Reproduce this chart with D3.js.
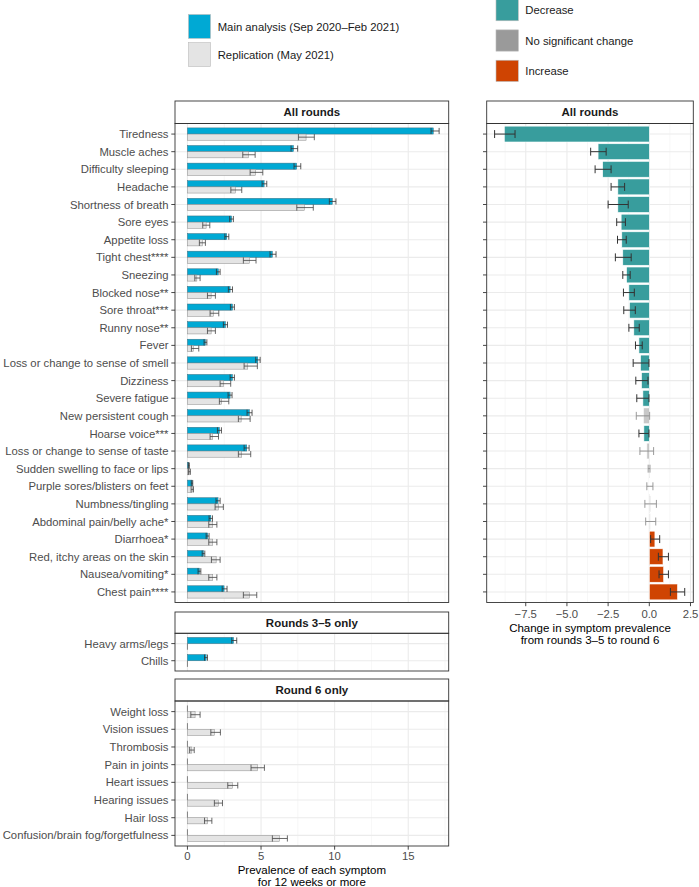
<!DOCTYPE html>
<html><head><meta charset="utf-8">
<script src="https://cdn.jsdelivr.net/npm/d3@7"></script>
<style>body{margin:0;background:#fff}svg{display:block;font-family:"Liberation Sans",Arial,sans-serif}</style>
</head><body>
<svg id="c" width="699" height="887"></svg>
<script>
const allCats = ["Tiredness","Muscle aches","Difficulty sleeping","Headache","Shortness of breath","Sore eyes","Appetite loss","Tight chest****","Sneezing","Blocked nose**","Sore throat***","Runny nose**","Fever","Loss or change to sense of smell","Dizziness","Severe fatigue","New persistent cough","Hoarse voice***","Loss or change to sense of taste","Sudden swelling to face or lips","Purple sores/blisters on feet","Numbness/tingling","Abdominal pain/belly ache*","Diarrhoea*","Red, itchy areas on the skin","Nausea/vomiting*","Chest pain****"];
const mainVal = [16.7,7.2,7.42,5.21,9.84,3.0,2.67,5.77,2.1,2.9,3.06,2.58,1.22,4.78,3.06,2.9,4.21,2.17,4.03,0.09,0.32,2.08,1.59,1.38,1.09,0.82,2.49];
const mainLo  = [16.55,7.04,7.24,5.07,9.64,2.87,2.54,5.61,1.97,2.78,2.92,2.44,1.13,4.64,2.9,2.76,4.05,2.04,3.85,0.06,0.26,1.94,1.47,1.27,1.0,0.72,2.36];
const mainHi  = [17.1,7.49,7.7,5.39,10.09,3.12,2.81,6.02,2.22,3.06,3.19,2.72,1.32,4.94,3.19,3.03,4.39,2.31,4.19,0.13,0.36,2.22,1.7,1.47,1.18,0.91,2.69];
const repVal  = [8.06,4.14,4.64,3.26,7.94,1.27,1.02,4.21,0.64,1.61,1.77,1.61,0.41,4.1,2.45,2.33,3.65,1.72,3.69,0.13,0.34,2.1,1.72,1.72,1.95,1.72,4.21];
const repLo   = [7.54,3.76,4.26,2.95,7.43,1.04,0.81,3.8,0.5,1.36,1.54,1.36,0.27,3.85,2.22,2.17,3.46,1.54,3.46,0.07,0.25,1.88,1.45,1.45,1.63,1.45,3.8];
const repHi   = [8.62,4.6,5.12,3.69,8.55,1.52,1.22,4.66,0.86,1.9,2.13,1.9,0.77,4.75,2.94,2.81,4.26,2.11,4.3,0.2,0.41,2.44,2.0,2.0,2.22,2.0,4.71];
const chgVal  = [-8.8,-3.11,-2.83,-1.91,-1.91,-1.71,-1.67,-1.61,-1.38,-1.24,-1.2,-0.94,-0.63,-0.53,-0.47,-0.39,-0.36,-0.33,-0.15,-0.02,0.03,0.08,0.06,0.34,0.83,0.87,1.71];
const chgLo   = [-9.39,-3.56,-3.29,-2.32,-2.5,-1.98,-1.93,-2.06,-1.61,-1.57,-1.55,-1.24,-0.84,-0.98,-0.82,-0.76,-0.79,-0.63,-0.57,-0.07,-0.15,-0.27,-0.22,0.08,0.55,0.59,1.28];
const chgHi   = [-8.15,-2.62,-2.32,-1.5,-1.28,-1.45,-1.4,-1.1,-1.16,-0.91,-0.85,-0.61,-0.43,-0.02,-0.08,-0.02,0.02,-0.02,0.26,0.04,0.22,0.43,0.39,0.63,1.16,1.16,2.15];
const chgDir  = ["Decrease","Decrease","Decrease","Decrease","Decrease","Decrease","Decrease","Decrease","Decrease","Decrease","Decrease","Decrease","Decrease","Decrease","Decrease","Decrease","No significant change","Decrease","No significant change","No significant change","No significant change","No significant change","No significant change","Increase","Increase","Increase","Increase"];
const r35Cats = ["Heavy arms/legs","Chills"];
const r35Main = [3.13,1.27];
const r35Lo   = [3.01,1.16];
const r35Hi   = [3.35,1.36];
const r6Cats  = ["Weight loss","Vision issues","Thrombosis","Pain in joints","Heart issues","Hearing issues","Hair loss","Confusion/brain fog/forgetfulness"];
const r6Rep   = [0.52,1.83,0.3,4.75,3.06,2.1,1.38,6.25];
const r6Lo    = [0.23,1.59,0.15,4.32,2.74,1.83,1.16,5.77];
const r6Hi    = [0.86,2.24,0.46,5.23,3.42,2.38,1.66,6.79];
const leftTicks  = [0,5,10,15];
const leftMinor  = [2.5,7.5,12.5,17.5];
const rightTicks = [-7.5,-5,-2.5,0,2.5];
const rightMinor = [-8.75,-6.25,-3.75,-1.25,1.25];
const seriesNames = ["Main analysis (Sep 2020\u2013Feb 2021)","Replication (May 2021)"];
const dirNames = ["Decrease","No significant change","Increase"];

const COL = {main:"#00a9d4", rep:"#e4e4e4", "Decrease":"#389d9d", "No significant change":"#9a9a9a", "Increase":"#cf4402"};
const FS = 11.3;
const svg = d3.select("#c");
const fmt = v => (v<0?"\u2212":"") + (Number.isInteger(Math.abs(v)*1)&&false?"":Math.abs(v).toFixed(1));

const xL = d3.scaleLinear().domain([-0.845,17.75]).range([175,448.7]);
const xR = d3.scaleLinear().domain([-9.87,2.67]).range([486.7,693.3]);

function panel(x, y0, y1, cats, majors, minors, stripText, stripTop, showYLabels) {
  const g = svg.append("g");
  const y = d3.scalePoint().domain(cats).range([y0,y1]).padding(0.6);
  const [xa,xb] = x.range();
  g.append("rect").attr("x",xa).attr("y",y0).attr("width",xb-xa).attr("height",y1-y0).attr("fill","#fff");
  g.selectAll(".mn").data(minors.filter(v=>x(v)>xa&&x(v)<xb)).join("line")
    .attr("x1",d=>x(d)).attr("x2",d=>x(d)).attr("y1",y0).attr("y2",y1).attr("stroke","#f2f2f2").attr("stroke-width",0.6);
  g.selectAll(".mj").data(majors).join("line")
    .attr("x1",d=>x(d)).attr("x2",d=>x(d)).attr("y1",y0).attr("y2",y1).attr("stroke","#ebebeb").attr("stroke-width",1.1);
  g.selectAll(".hg").data(cats).join("line")
    .attr("x1",xa).attr("x2",xb).attr("y1",d=>y(d)).attr("y2",d=>y(d)).attr("stroke","#ebebeb").attr("stroke-width",1.1);
  // strip
  g.append("rect").attr("x",xa).attr("y",stripTop).attr("width",xb-xa).attr("height",y0-stripTop)
    .attr("fill","#fff").attr("stroke","#333").attr("stroke-width",0.9);
  g.append("text").attr("x",(xa+xb)/2).attr("y",(stripTop+y0)/2).attr("dy","0.36em").attr("text-anchor","middle")
    .attr("font-size",11.5).attr("font-weight","bold").attr("fill","#1a1a1a").text(stripText);
  // y ticks
  g.selectAll(".yt").data(cats).join("line")
    .attr("x1",xa-3.7).attr("x2",xa).attr("y1",d=>y(d)).attr("y2",d=>y(d)).attr("stroke","#333").attr("stroke-width",0.9);
  if (showYLabels) {
    g.selectAll(".yl").data(cats).join("text")
      .attr("x",xa-6.5).attr("y",d=>y(d)).attr("dy","0.36em").attr("text-anchor","end")
      .attr("font-size",FS).attr("fill","#4d4d4d").text(d=>d);
  }
  return {g,y,frame:()=>g.append("rect").attr("x",xa).attr("y",y0).attr("width",xb-xa).attr("height",y1-y0)
    .attr("fill","none").attr("stroke","#333").attr("stroke-width",0.9)};
}

function hbar(g, x, yTop, h, v, fill, stroke) {
  if (v === 0) {
    g.append("line").attr("x1",x(0)).attr("x2",x(0)).attr("y1",yTop).attr("y2",yTop+h).attr("stroke",stroke).attr("stroke-width",0.7);
  } else {
    g.append("rect").attr("x",Math.min(x(0),x(v))).attr("y",yTop).attr("width",Math.abs(x(v)-x(0))).attr("height",h)
      .attr("fill",fill).attr("stroke",stroke).attr("stroke-width",0.5);
  }
}
function ebar(g, x, yc, h, lo, hi, col, sw) {
  g.append("line").attr("x1",x(lo)).attr("x2",x(hi)).attr("y1",yc).attr("y2",yc).attr("stroke",col).attr("stroke-width",sw);
  [lo,hi].forEach(v=>g.append("line").attr("x1",x(v)).attr("x2",x(v)).attr("y1",yc-h/2).attr("y2",yc+h/2).attr("stroke",col).attr("stroke-width",sw));
}

// All rounds left
const P1 = panel(xL,123.5,602.5,allCats,leftTicks,leftMinor,"All rounds",101,true);
const st1 = P1.y.step(), bh1 = st1*0.35;
allCats.forEach((c,i)=>{
  const yc = P1.y(c);
  hbar(P1.g,xL,yc-bh1,bh1,mainVal[i],COL.main,"#3b6f80");
  hbar(P1.g,xL,yc,bh1,repVal[i],COL.rep,"#8a8a8a");
  ebar(P1.g,xL,yc-bh1/2,bh1,mainLo[i],mainHi[i],"#333",0.8);
  ebar(P1.g,xL,yc+bh1/2,bh1,repLo[i],repHi[i],"#444",0.8);
});
P1.frame();

// Rounds 3-5
const P2 = panel(xL,633.3,671,r35Cats,leftTicks,leftMinor,"Rounds 3\u20135 only",612,true);
const st2 = P1.y.step()*0.35;
r35Cats.forEach((c,i)=>{
  const yc = P2.y(c);
  hbar(P2.g,xL,yc-st2,st2,r35Main[i],COL.main,"#3b6f80");
  hbar(P2.g,xL,yc,st2,0,COL.rep,"#555");
  ebar(P2.g,xL,yc-st2/2,st2,r35Lo[i],r35Hi[i],"#333",0.8);
});
P2.frame();

// Round 6
const P3 = panel(xL,701,846,r6Cats,leftTicks,leftMinor,"Round 6 only",679,true);
r6Cats.forEach((c,i)=>{
  const yc = P3.y(c);
  hbar(P3.g,xL,yc-st2,st2,0,COL.main,"#555");
  hbar(P3.g,xL,yc,st2,r6Rep[i],COL.rep,"#8a8a8a");
  ebar(P3.g,xL,yc+st2/2,st2,r6Lo[i],r6Hi[i],"#444",0.8);
});
P3.frame();
// left x axis
const gx = svg.append("g");
leftTicks.forEach(t=>{
  gx.append("line").attr("x1",xL(t)).attr("x2",xL(t)).attr("y1",846).attr("y2",849.7).attr("stroke","#333").attr("stroke-width",0.9);
  gx.append("text").attr("x",xL(t)).attr("y",860.3).attr("text-anchor","middle").attr("font-size",FS).attr("fill","#4d4d4d").text(t);
});
gx.append("text").attr("x",(175+448.7)/2).attr("y",874).attr("text-anchor","middle").attr("font-size",11.5).attr("fill","#000").text("Prevalence of each symptom");
gx.append("text").attr("x",(175+448.7)/2).attr("y",885.5).attr("text-anchor","middle").attr("font-size",11.5).attr("fill","#000").text("for 12 weeks or more");

// Right panel
const P4 = panel(xR,123.5,602.5,allCats,rightTicks,rightMinor,"All rounds",101,false);
const bh4 = P4.y.step()*0.9;
allCats.forEach((c,i)=>{
  const yc = P4.y(c);
  const ns = chgDir[i]==="No significant change";
  P4.g.append("rect").attr("x",Math.min(xR(0),xR(chgVal[i]))).attr("y",yc-bh4/2)
    .attr("width",Math.abs(xR(chgVal[i])-xR(0))).attr("height",bh4)
    .attr("fill",COL[chgDir[i]]).attr("fill-opacity",ns?0.55:1).attr("stroke","#fff").attr("stroke-width",0.6);
  ebar(P4.g,xR,yc,bh4*0.5,chgLo[i],chgHi[i],ns?"#8f8f8f":"#333",ns?0.9:1);
});
P4.frame();
const gr = svg.append("g");
rightTicks.forEach(t=>{
  gr.append("line").attr("x1",xR(t)).attr("x2",xR(t)).attr("y1",602.5).attr("y2",606.2).attr("stroke","#333").attr("stroke-width",0.9);
  gr.append("text").attr("x",xR(t)).attr("y",617.8).attr("text-anchor","middle").attr("font-size",FS).attr("fill","#4d4d4d").text(fmt(t));
});
gr.append("text").attr("x",(486.7+693.3)/2).attr("y",632.3).attr("text-anchor","middle").attr("font-size",11.5).attr("fill","#000").text("Change in symptom prevalence");
gr.append("text").attr("x",(486.7+693.3)/2).attr("y",643.8).attr("text-anchor","middle").attr("font-size",11.5).attr("fill","#000").text("from rounds 3\u20135 to round 6");

// Legends
const lg = svg.append("g");
const ly = d3.scaleBand().domain(seriesNames).range([14.5,66.5]).paddingInner(0.15);
seriesNames.forEach((s,i)=>{
  lg.append("rect").attr("x",188.5).attr("y",ly(s)).attr("width",22).attr("height",ly.bandwidth())
    .attr("fill",i===0?COL.main:COL.rep).attr("stroke","#bbb").attr("stroke-width",0.6);
  lg.append("text").attr("x",217.7).attr("y",ly(s)+ly.bandwidth()/2).attr("dy","0.36em").attr("font-size",FS).attr("fill","#1a1a1a").text(s);
});
const ry = d3.scaleBand().domain(dirNames).range([-0.5,81.5]).paddingInner(0.3);
dirNames.forEach(s=>{
  lg.append("rect").attr("x",496).attr("y",ry(s)).attr("width",22.3).attr("height",ry.bandwidth())
    .attr("fill",COL[s]).attr("stroke","#bbb").attr("stroke-width",0.6);
  lg.append("text").attr("x",525.3).attr("y",ry(s)+ry.bandwidth()/2).attr("dy","0.36em").attr("font-size",FS).attr("fill","#1a1a1a").text(s);
});
</script>
</body></html>
